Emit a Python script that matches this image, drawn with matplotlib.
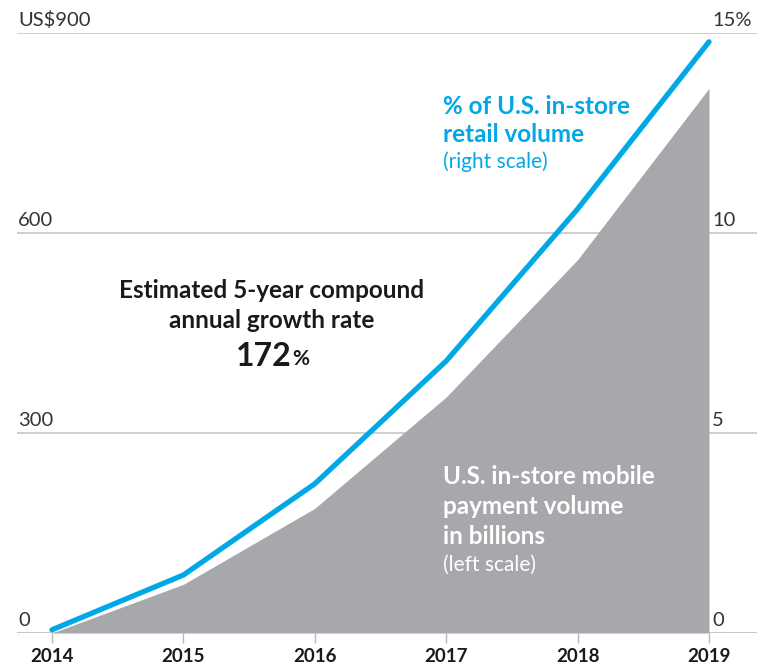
import matplotlib
matplotlib.use("Agg")
import matplotlib.pyplot as plt
import matplotlib.transforms as mtransforms

years = [2014, 2015, 2016, 2017, 2018, 2019]
volume_billions = [0, 73, 187, 354, 560, 817]
pct_retail = [0.08, 1.45, 3.73, 6.8, 10.6, 14.78]
left_ticks = [0, 300, 600, 900]
left_labels = ["0", "300", "600", "US$900"]
right_ticks = [0, 5, 10, 15]
right_labels = ["0", "5", "10", "15%"]

FONT = "Lato"
W, H = 757, 666
fig = plt.figure(figsize=(W / 100, H / 100), dpi=100)
ax = fig.add_axes([17 / W, 33 / H, 1 - 17 / W, 600 / H])
px_per_year = (709 - 52) / 5
ax.set_xlim(2014 - (52 - 17) / px_per_year, 2019 + (W - 709) / px_per_year)
ax.set_ylim(0, 900)
for s in ax.spines.values():
    s.set_visible(False)
ax.set_yticks([])
ax.set_xticks(years)
ax.set_xticklabels([str(y) for y in years], fontfamily=FONT, fontweight="bold",
                   fontsize=13.5, color="#1a1a1a")
ax.tick_params(axis="x", length=7, width=1, color="#b8b8b8", pad=4)

for t in left_ticks:
    ax.axhline(t, color="#c6c6c6" if t else "#bdbdbd", lw=1.2, zorder=1)

ax.fill_between(years, volume_billions, 0, color="#a7a8ab", lw=0, zorder=2)

ax2 = ax.twinx()
ax2.set_ylim(0, 15)
ax2.set_xlim(ax.get_xlim())
for s in ax2.spines.values():
    s.set_visible(False)
ax2.set_yticks([])
ax2.plot(years, pct_retail, color="#00a8e6", lw=3.8, solid_capstyle="round",
         solid_joinstyle="round", zorder=3)

tr_left = mtransforms.blended_transform_factory(fig.transFigure, ax.transData)
for t, lab in zip(left_ticks, left_labels):
    ax.text(18 / W, t + 6, lab, transform=tr_left, ha="left", va="bottom",
            fontfamily=FONT, fontsize=14.5, color="#333333")
tr_right = mtransforms.blended_transform_factory(fig.transFigure, ax2.transData)
for t, lab in zip(right_ticks, right_labels):
    ax2.text(712 / W, t + 0.1, lab, transform=tr_right, ha="left", va="bottom",
             fontfamily=FONT, fontsize=14.5, color="#333333")

def ftext(x, y, s, **kw):
    fig.text(x / W, 1 - y / H, s, fontfamily=FONT, **kw)

ftext(272, 290, "Estimated 5-year compound", ha="center", va="center",
      fontsize=17.5, fontweight="bold", color="#1a1a1a")
ftext(272, 320, "annual growth rate", ha="center", va="center",
      fontsize=17.5, fontweight="bold", color="#1a1a1a")
ftext(292, 356, "172", ha="right", va="center", fontsize=23,
      fontweight="bold", color="#1a1a1a")
ftext(292, 359, "%", ha="left", va="center", fontsize=15,
      fontweight="bold", color="#1a1a1a")

ftext(443, 106, "% of U.S. in-store", ha="left", va="center", fontsize=17.5,
      fontweight="bold", color="#00a8e6")
ftext(443, 135, "retail volume", ha="left", va="center", fontsize=17.5,
      fontweight="bold", color="#00a8e6")
ftext(443, 162, "(right scale)", ha="left", va="center", fontsize=15,
      color="#00a8e6")

ftext(443, 477, "U.S. in-store mobile", ha="left", va="center", fontsize=17.5,
      fontweight="bold", color="white")
ftext(443, 507, "payment volume", ha="left", va="center", fontsize=17.5,
      fontweight="bold", color="white")
ftext(443, 537, "in billions", ha="left", va="center", fontsize=17.5,
      fontweight="bold", color="white")
ftext(443, 565, "(left scale)", ha="left", va="center", fontsize=15,
      color="white")

fig.savefig("out.png", dpi=100)
